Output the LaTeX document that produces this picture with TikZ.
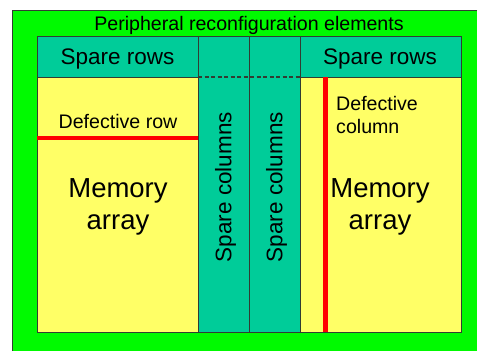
\documentclass[tikz,border=0pt]{standalone}
\usepackage{fontspec}
\setmainfont{Liberation Sans}
\definecolor{periph}{RGB}{0,250,0}
\definecolor{sparefill}{RGB}{0,204,153}
\definecolor{memfill}{RGB}{255,255,102}
\definecolor{edge}{RGB}{50,60,50}
\definecolor{fault}{RGB}{255,0,0}
\tikzset{
  block/.style={draw=edge, line width=0.9pt, inner sep=0pt, anchor=north west},
  sparebox/.style={block, fill=sparefill},
  membox/.style={block, fill=memfill},
  faultline/.style={draw=fault, line width=4.5pt},
  smalltxt/.style={font=\fontsize{19.6}{23}\selectfont, inner sep=0pt},
  midtxt/.style={font=\fontsize{22.5}{26}\selectfont, inner sep=0pt},
  bigtxt/.style={font=\fontsize{27.5}{32}\selectfont, inner sep=0pt, align=center},
}
\begin{document}
\begin{tikzpicture}[x=1pt,y=-1pt]
\useasboundingbox (0,0) rectangle (477,351);
\fill[white] (0,0) rectangle (477,351);
% outer frame of peripheral elements, running off the right and bottom edges
\begin{scope}
  \clip (0,0) rectangle (477,351);
  \draw[draw=edge, line width=0.9pt, fill=periph] (12,10) rectangle (490,365);
\end{scope}
\node[smalltxt, anchor=base] (title) at (249,30) {Peripheral reconfiguration elements};

% memory arrays
\node[membox, minimum width=161pt, minimum height=255pt] (memL) at (37,77) {};
\node[membox, minimum width=161pt, minimum height=255pt] (memR) at (300,77) {};

% spare rows
\node[sparebox, minimum width=161pt, minimum height=41pt] (rowsL) at (37,36) {};
\node[sparebox, minimum width=161pt, minimum height=41pt] (rowsR) at (300,36) {};
\node[midtxt, anchor=base] at (117.5,64) {Spare rows};
\node[midtxt, anchor=base] at (380,64) {Spare rows};

% spare columns
\node[sparebox, minimum width=51pt, minimum height=296pt] (colA) at (198,36) {};
\node[sparebox, minimum width=51pt, minimum height=296pt] (colB) at (249,36) {};
\node[midtxt, rotate=90] at (225.5,187) {Spare columns};
\node[midtxt, rotate=90] at (276.5,187) {Spare columns};
\draw[draw=edge, line width=1.1pt, dash pattern=on 4pt off 2.5pt]
  (colA.north west |- memL.north) -- (colB.north east |- memL.north);

% defective row in the left array
\coordinate (rowA) at (37,137.5);
\coordinate (rowB) at (198,137.5);
\draw[faultline, line width=4pt] (rowA) -- (rowB);
\node[smalltxt, anchor=base] at (118,128) {Defective row};

% defective column in the right array
\coordinate (colTop) at (325,77);
\coordinate (colBot) at (325,332);
\draw[faultline, line width=5pt] (colTop) -- (colBot);
\node[smalltxt, anchor=base west] at (336,110) {Defective};
\node[smalltxt, anchor=base west] at (336,133) {column};

% array labels
\node[bigtxt, anchor=base] at (118,197) {Memory};
\node[bigtxt, anchor=base] at (118,229) {array};
\node[bigtxt, anchor=base] at (380,197) {Memory};
\node[bigtxt, anchor=base] at (380,229) {array};
\end{tikzpicture}
\end{document}
